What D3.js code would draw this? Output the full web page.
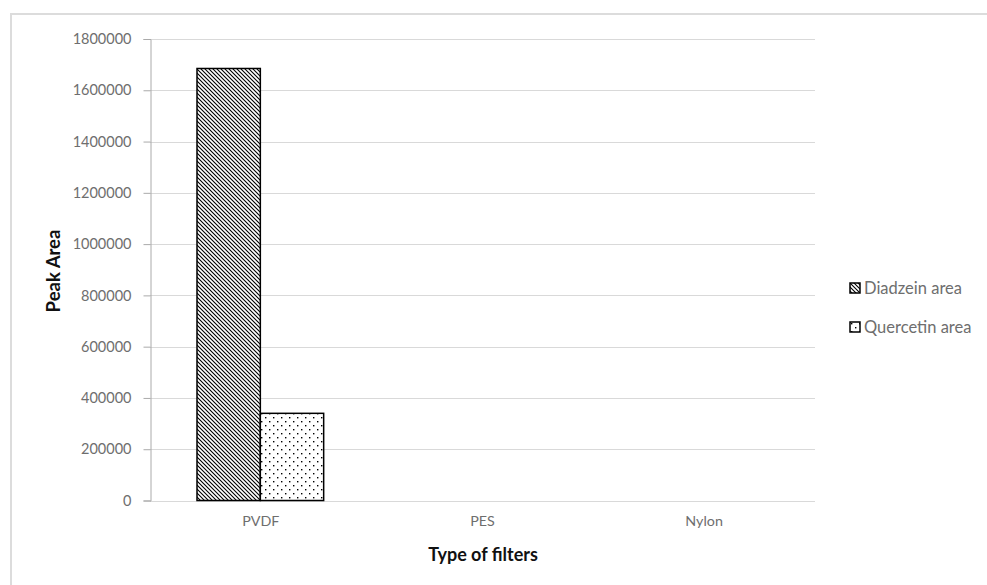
<!DOCTYPE html>
<html><head><meta charset="utf-8">
<script src="https://cdn.jsdelivr.net/npm/d3@7"></script>
<style>body{margin:0;background:#fff;}svg{display:block;}</style>
</head><body>
<script>
const categories = ["PVDF", "PES", "Nylon"];
const seriesNames = ["Diadzein area", "Quercetin area"];
const diadzein = [1685000, 0, 0];
const quercetin = [340000, 0, 0];
const yTicks = [0, 200000, 400000, 600000, 800000, 1000000, 1200000, 1400000, 1600000, 1800000];

const W = 987, H = 585;
const svg = d3.select("body").append("svg").attr("width", W).attr("height", H);
const defs = svg.append("defs");
// hatch pattern
const ph = defs.append("pattern").attr("id", "hatch").attr("patternUnits", "userSpaceOnUse")
  .attr("width", 4).attr("height", 4);
ph.append("rect").attr("width", 4).attr("height", 4).attr("fill", "#fff");
ph.append("path").attr("d", "M-1,-1 L5,5 M-1,3 L1,5 M3,-1 L5,1").attr("stroke", "#000").attr("stroke-width", 1.1);
// dots pattern
const pd = defs.append("pattern").attr("id", "dots").attr("patternUnits", "userSpaceOnUse")
  .attr("width", 8).attr("height", 8);
pd.append("rect").attr("width", 8).attr("height", 8).attr("fill", "#fff");
pd.append("rect").attr("x", 1).attr("y", 1).attr("width", 1.4).attr("height", 1.4).attr("fill", "#000");
pd.append("rect").attr("x", 5).attr("y", 5).attr("width", 1.4).attr("height", 1.4).attr("fill", "#000");
const fills = ["url(#hatch)", "url(#dots)"];

// outer frame
svg.append("path").attr("d", "M11,585 L11,14 L987,14").attr("fill", "none").attr("stroke", "#dcdcdc").attr("stroke-width", 2);

const m = {left: 150, right: 815, top: 39, bottom: 500.5};
const x = d3.scaleBand().domain(categories).range([m.left, m.right]);
const y = d3.scaleLinear().domain([0, 1800000]).range([m.bottom, m.top]);
const font = "Lato, 'Open Sans', sans-serif";

// gridlines
svg.append("g").selectAll("line").data(yTicks).join("line")
  .attr("x1", m.left).attr("x2", m.right)
  .attr("y1", d => Math.round(y(d)) + 0.5).attr("y2", d => Math.round(y(d)) + 0.5)
  .attr("stroke", "#d9d9d9").attr("stroke-width", 1);

// y axis
const yAxis = svg.append("g").attr("transform", `translate(${m.left + 0.5},0)`)
  .call(d3.axisLeft(y).tickValues(yTicks).tickFormat(d3.format("d")).tickSize(7).tickPadding(12));
yAxis.select(".domain").attr("stroke", "#aaa");
yAxis.selectAll(".tick line").attr("stroke", "#aaa");
yAxis.selectAll("text").attr("fill", "#6e6e6e").attr("font-family", font).attr("font-size", 14.5);

// bars
const inner = d3.scaleBand().domain([0, 1]).range([0, x.bandwidth()]).paddingInner(0).paddingOuter(0.75);
const seriesData = [diadzein, quercetin];
seriesData.forEach((vals, si) => {
  svg.append("g").selectAll("rect").data(vals.map((v, i) => ({v, c: categories[i]})).filter(d => d.v > 0)).join("rect")
    .attr("x", d => x(d.c) + inner(si) - 0.5)
    .attr("y", d => y(d.v))
    .attr("width", inner.bandwidth())
    .attr("height", d => y(0) - y(d.v))
    .attr("fill", fills[si]).attr("stroke", "#000").attr("stroke-width", 1.5);
});

// x labels
svg.append("g").selectAll("text").data(categories).join("text")
  .attr("x", d => x(d) + x.bandwidth() / 2).attr("y", 526)
  .attr("text-anchor", "middle").attr("fill", "#6e6e6e").attr("font-family", font).attr("font-size", 14.3)
  .text(d => d);

// axis titles
svg.append("text").attr("x", (m.left + m.right) / 2 + 0.5).attr("y", 561).attr("text-anchor", "middle")
  .attr("font-family", font).attr("font-weight", "bold").attr("font-size", 18).attr("fill", "#111")
  .text("Type of filters");
svg.append("text").attr("transform", "translate(60,271) rotate(-90)").attr("text-anchor", "middle")
  .attr("font-family", font).attr("font-weight", "bold").attr("font-size", 18.5).attr("fill", "#111")
  .text("Peak Area");

// legend
const lg = svg.append("g").selectAll("g").data(seriesNames).join("g")
  .attr("transform", (d, i) => `translate(850,${283 + i * 39})`);
lg.append("rect").attr("width", 10).attr("height", 10).attr("fill", (d, i) => fills[i])
  .attr("stroke", "#000").attr("stroke-width", 1.5);
lg.append("text").attr("x", 14).attr("y", 10.5).attr("font-family", font).attr("font-size", 16.5)
  .attr("fill", "#6e6e6e").text(d => d);
</script>
</body></html>
